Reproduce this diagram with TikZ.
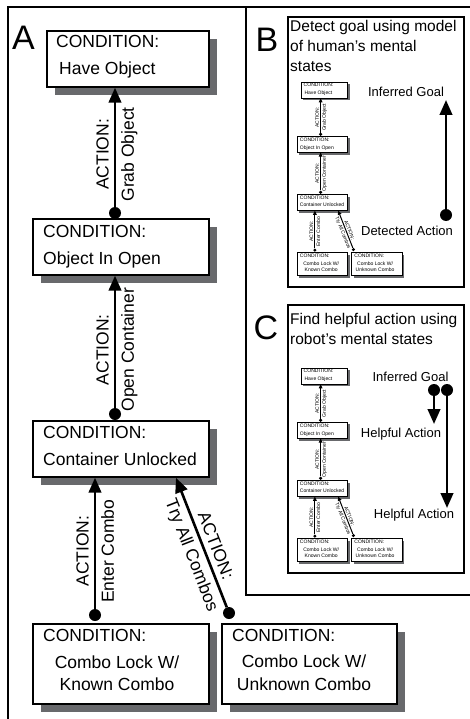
\documentclass[tikz,border=0pt]{standalone}
\usepackage{fontspec}
\setmainfont{Liberation Sans}
\usetikzlibrary{arrows.meta,calc}

\definecolor{shadowgrey}{RGB}{104,105,108}

\tikzset{
  ctext/.style={inner sep=0pt, font=\fontsize{17.5}{21}\selectfont},
  arrowlabel/.style={inner sep=5pt, font=\fontsize{17.5}{21}\selectfont},
  dot/.style={circle, fill=black, draw=none, inner sep=0pt, minimum size=12},
  frameline/.style={line width=1.3pt},
  letter/.style={inner sep=0pt, anchor=base west, font=\fontsize{34}{40}\selectfont},
  paneltitle/.style={inner sep=0pt, anchor=north west, align=left, font=\fontsize{15.5}{20}\selectfont},
  sidelabel/.style={inner sep=0pt, anchor=base, font=\fontsize{13}{16}\selectfont},
  bigtip/.style={line width=2.6pt, -{Triangle[length=15pt, width=12.5pt]}},
}

% the condition/action chain; #1 = drawing scale, #2 = box pen, #3 = arrow pen
\newcommand\drawchain[3]{%
  \pgfmathsetlengthmacro\tiplen{15*#1}%
  \pgfmathsetlengthmacro\tipwid{12.5*#1}%
  \tikzset{
    cbox/.style={draw, fill=white, line width=#2, inner sep=0pt},
    acttip/.style={line width=#3, -{Triangle[length=\tiplen, width=\tipwid]}},
  }%
  % hard drop shadows behind the boxes
  \fill[shadowgrey] (55,-95) rectangle (217,-39);
  \fill[shadowgrey] (41,-283) rectangle (217,-227);
  \fill[shadowgrey] (41,-485) rectangle (217,-429);
  \fill[shadowgrey] (41,-712) rectangle (217,-632);
  \fill[shadowgrey] (230,-712) rectangle (405,-632);
  % condition boxes
  \node[cbox, minimum width=162, minimum height=56] (have) at (128,-59) {};
  \node[cbox, minimum width=176, minimum height=56] (open) at (121,-247) {};
  \node[cbox, minimum width=176, minimum height=56] (unlocked) at (121,-449) {};
  \node[cbox, minimum width=176, minimum height=80] (known) at (121,-664) {};
  \node[cbox, minimum width=175, minimum height=80] (unknown) at (309.5,-664) {};
  \node[ctext, anchor=base west] (have-c) at (56,-48) {CONDITION:};
  \node[ctext, anchor=base west] (have-t) at (59,-75) {Have Object};
  \node[ctext, anchor=base west] (open-c) at (43,-237) {CONDITION:};
  \node[ctext, anchor=base west] (open-t) at (43,-264) {Object In Open};
  \node[ctext, anchor=base west] (unl-c) at (43,-438) {CONDITION:};
  \node[ctext, anchor=base west] (unl-t) at (43,-465) {Container Unlocked};
  \node[ctext, anchor=base west] (kn-c) at (43,-641) {CONDITION:};
  \node[ctext, anchor=base] (kn-t1) at (117,-668) {Combo Lock W/};
  \node[ctext, anchor=base] (kn-t2) at (117,-690) {Known Combo};
  \node[ctext, anchor=base west] (unk-c) at (232,-641) {CONDITION:};
  \node[ctext, anchor=base] (unk-t1) at (304,-667) {Combo Lock W/};
  \node[ctext, anchor=base] (unk-t2) at (304,-690) {Unknown Combo};
  % actions
  \node[dot] (grab-d) at (115,-213) {};
  \node[dot] (opn-d) at (115,-414) {};
  \node[dot] (ent-d) at (95,-615) {};
  \node[dot] (try-d) at (229,-613) {};
  \draw[acttip] (grab-d) -- (grab-d |- have.south)
    node[arrowlabel, pos=.44, rotate=90, anchor=south] (grab-a) {ACTION:}
    node[arrowlabel, pos=.44, rotate=90, anchor=north] (grab-n) {Grab Object};
  \draw[acttip] (opn-d) -- (opn-d |- open.south)
    node[arrowlabel, pos=.44, rotate=90, anchor=south] (opn-a) {ACTION:}
    node[arrowlabel, pos=.44, rotate=90, anchor=north] (opn-n) {Open Container};
  \draw[acttip] (ent-d) -- (ent-d |- unlocked.south)
    node[arrowlabel, pos=.44, rotate=90, anchor=south] (ent-a) {ACTION:}
    node[arrowlabel, pos=.44, rotate=90, anchor=north] (ent-n) {Enter Combo};
  \draw[acttip] (try-d) -- ($(unlocked.south west)!0.81!(unlocked.south east)$)
    node[arrowlabel, pos=.44, rotate=-68.7, anchor=south] (try-a) {ACTION:}
    node[arrowlabel, pos=.44, rotate=-68.7, anchor=north] (try-n) {Try All Combos};
}

\begin{document}
\begin{tikzpicture}[x=1pt, y=1pt]
  \useasboundingbox (0,0) rectangle (470,-719);
  % outer frame, divider and the two side panels
  \draw[frameline] (8,-719) -- (8,-7) -- (470,-7);
  \draw[frameline] (246,-7) -- (246,-595) -- (470,-595);
  \draw[frameline] (288,-17) rectangle (464,-287);
  \draw[frameline] (288,-305) rectangle (464,-573);
  % panel letters
  \node[letter] (lblA) at (12,-50) {A};
  \node[letter] (lblB) at (255.5,-52) {B};
  \node[letter] (lblC) at (253.5,-339) {C};

  % full-size chain
  \begin{scope}[name prefix=A-]
    \drawchain{1}{1.4pt}{2.6pt}
  \end{scope}

  % panel B
  \node[paneltitle] (titleB) at (290,-19.7) {Detect goal using model\\of human's mental\\states};
  \begin{scope}[shift={(287.5,-73)}, scale=0.288, transform shape, name prefix=B-]
    \drawchain{0.288}{0.6pt}{1pt}
  \end{scope}
  \node[sidelabel] (goalB) at (406,-97) {Inferred Goal};
  \node[dot] (detB-d) at (446,-215) {};
  \coordinate (goalB-tip) at (446,-100);
  \draw[bigtip] (detB-d) -- (goalB-tip);
  \node[sidelabel] (detB) at (407,-235) {Detected Action};

  % panel C
  \node[paneltitle] (titleC) at (290,-312.7) {Find helpful action using\\robot's mental states};
  \begin{scope}[shift={(287.5,-359)}, scale=0.288, transform shape, name prefix=C-]
    \drawchain{0.288}{0.6pt}{1pt}
  \end{scope}
  \node[sidelabel] (goalC) at (410.5,-381) {Inferred Goal};
  \node[dot] (helpC1-d) at (434,-390) {};
  \node[dot] (helpC2-d) at (447,-390) {};
  \coordinate (helpC1-tip) at (434,-424);
  \coordinate (helpC2-tip) at (447,-508);
  \draw[bigtip] (helpC1-d) -- (helpC1-tip);
  \draw[bigtip] (helpC2-d) -- (helpC2-tip);
  \node[sidelabel] (helpC1) at (401,-437) {Helpful Action};
  \node[sidelabel] (helpC2) at (414,-518) {Helpful Action};
\end{tikzpicture}
\end{document}
